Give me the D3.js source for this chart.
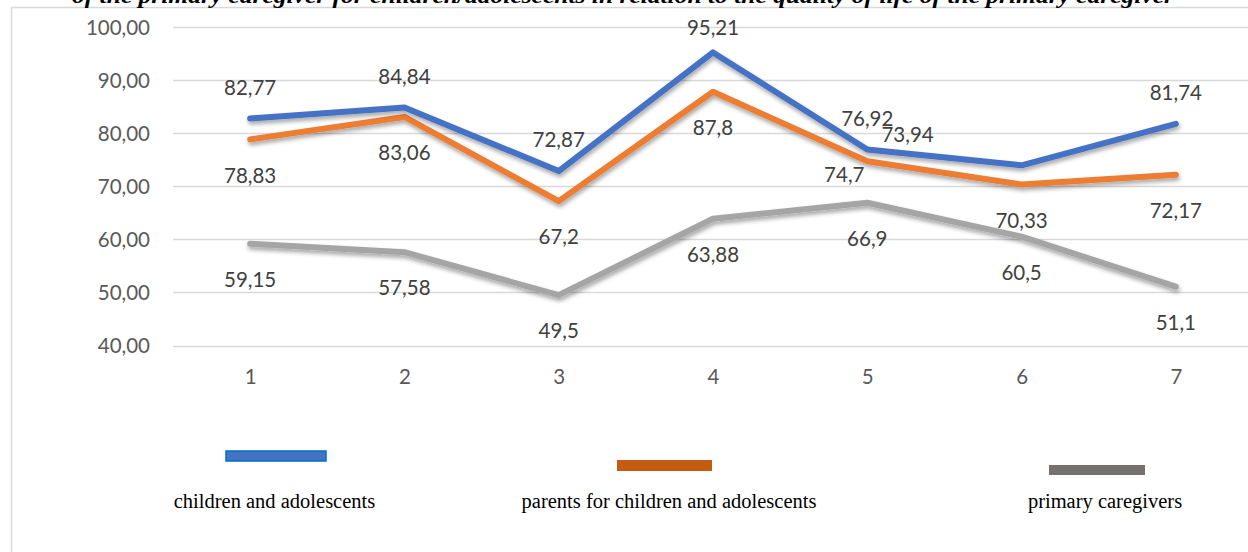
<!DOCTYPE html>
<html>
<head>
<meta charset="utf-8">
<script src="https://cdn.jsdelivr.net/npm/d3@7"></script>
<style>
  body { margin: 0; background: #fff; }
  svg { display: block; }
</style>
</head>
<body>
<div id="container"></div>
<script>
// data
const categories = [1, 2, 3, 4, 5, 6, 7];
const children = [82.77, 84.84, 72.87, 95.21, 76.92, 73.94, 81.74];
const parents = [78.83, 83.06, 67.2, 87.8, 74.7, 70.33, 72.17];
const caregivers = [59.15, 57.58, 49.5, 63.88, 66.9, 60.5, 51.1];
const yTicks = [40, 50, 60, 70, 80, 90, 100];
const seriesNames = ["children and adolescents", "parents for children and adolescents", "primary caregivers"];

const width = 1248, height = 552;

const svg = d3.select("#container")
    .append("svg")
    .attr("width", width)
    .attr("height", height);

// drop shadow like excel lines
const filter = svg.append("defs").append("filter")
    .attr("id", "shadow")
    .attr("x", "-5%").attr("y", "-20%")
    .attr("width", "110%").attr("height", "140%");
filter.append("feDropShadow")
    .attr("dx", 1).attr("dy", 3)
    .attr("stdDeviation", 2)
    .attr("flood-color", "#000")
    .attr("flood-opacity", 0.35);

// outer chart border
svg.append("rect")
    .attr("x", 11.5).attr("y", 7.5)
    .attr("width", width).attr("height", height)
    .attr("fill", "none")
    .attr("stroke", "#d9d9d9")
    .attr("stroke-width", 1.5);

// title, cut off at the top as in the source
svg.append("text")
    .attr("x", 623).attr("y", 3)
    .attr("text-anchor", "middle")
    .attr("textLength", 1102)
    .attr("lengthAdjust", "spacingAndGlyphs")
    .style("font-family", "'Liberation Serif', 'Times New Roman', serif")
    .style("font-weight", "bold")
    .style("font-style", "italic")
    .style("font-size", "20px")
    .text("of the primary caregiver for children/adolescents in relation to the quality of life of the primary caregiver");

const x = d3.scalePoint()
    .domain(categories)
    .range([173, 1253])
    .padding(0.5);

const y = d3.scaleLinear()
    .domain([40, 100])
    .range([345.5, 27]);

const fmt = v => d3.format(".2f")(v).replace(".", ",");
const fmtLabel = v => String(v).replace(".", ",");

// gridlines
svg.append("g")
    .selectAll("line")
    .data(yTicks)
    .enter()
    .append("line")
    .attr("x1", 173).attr("x2", 1260)
    .attr("y1", d => Math.round(y(d)) + 0.5)
    .attr("y2", d => Math.round(y(d)) + 0.5)
    .attr("stroke", "#d9d9d9")
    .attr("stroke-width", 1.5);

const tickFont = "Lato, 'Open Sans', sans-serif";

// y axis labels
const yAxis = svg.append("g")
    .attr("transform", "translate(150,0)")
    .call(d3.axisLeft(y).tickValues(yTicks).tickFormat(fmt).tickSize(0).tickPadding(0));
yAxis.select(".domain").remove();
yAxis.selectAll("text")
    .attr("fill", "#595959")
    .attr("dy", "0.35em")
    .style("font-family", tickFont)
    .style("font-size", "20.5px");

// x axis labels
const xAxis = svg.append("g")
    .attr("transform", "translate(0,377)")
    .call(d3.axisBottom(x).tickSize(0).tickPadding(0));
xAxis.select(".domain").remove();
xAxis.selectAll("text")
    .attr("fill", "#595959")
    .attr("dy", "0.35em")
    .style("font-family", tickFont)
    .style("font-size", "20.5px");

const series = [
    {name: seriesNames[0], values: children, color: "#4472C4", pos: "above"},
    {name: seriesNames[1], values: parents, color: "#ED7D31", pos: "below"},
    {name: seriesNames[2], values: caregivers, color: "#A5A5A5", pos: "below"}
];

// a few labels were nudged in the original
const nudges = {
    "0-3": [0, 6],
    "1-4": [-23, -22],
    "0-5": [-114, 0]
};

const line = d3.line()
    .x((d, i) => x(categories[i]))
    .y(d => y(d));

// draw grey first so blue sits on top
const drawOrder = [2, 1, 0];
drawOrder.forEach(si => {
    const s = series[si];
    svg.append("path")
        .datum(s.values)
        .attr("d", line)
        .attr("fill", "none")
        .attr("stroke", s.color)
        .attr("stroke-width", 6)
        .attr("stroke-linejoin", "round")
        .attr("stroke-linecap", "round")
        .attr("filter", "url(#shadow)");
});

series.forEach((s, si) => {
    svg.append("g")
        .selectAll("text")
        .data(s.values)
        .enter()
        .append("text")
        .attr("x", (d, i) => x(categories[i]) + (nudges[si + "-" + i] || [0, 0])[0])
        .attr("y", (d, i) => y(d) + (s.pos === "above" ? -31 : 36) + (nudges[si + "-" + i] || [0, 0])[1])
        .attr("dy", "0.35em")
        .attr("text-anchor", "middle")
        .attr("fill", "#404040")
        .style("font-family", tickFont)
        .style("font-size", "20.5px")
        .text(d => fmtLabel(d));
});

// legend (drawn as in the source document, separate from the chart)
const legendFont = "'Liberation Serif', 'Times New Roman', serif";
const legendItems = [
    {rx: 226, ry: 451, rw: 100, rh: 10, fill: "#4472C4", stroke: "#0070C0", tx: 274.5},
    {rx: 617, ry: 460, rw: 95, rh: 11, fill: "#C55A11", stroke: "none", tx: 669},
    {rx: 1049, ry: 465, rw: 96, rh: 10, fill: "#767171", stroke: "none", tx: 1105}
];
legendItems.forEach((l, i) => {
    svg.append("rect")
        .attr("x", l.rx).attr("y", l.ry)
        .attr("width", l.rw).attr("height", l.rh)
        .attr("fill", l.fill)
        .attr("stroke", l.stroke)
        .attr("stroke-width", 1.5);
    svg.append("text")
        .attr("x", l.tx).attr("y", 508)
        .attr("text-anchor", "middle")
        .attr("fill", "#000")
        .style("font-family", legendFont)
        .style("font-size", "20.5px")
        .text(seriesNames[i]);
});
</script>
</body>
</html>
